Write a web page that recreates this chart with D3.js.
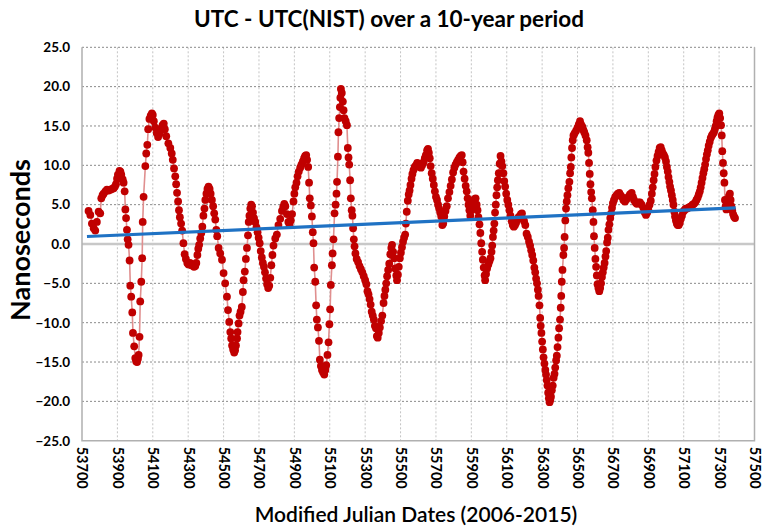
<!DOCTYPE html>
<html>
<head>
<meta charset="utf-8">
<script src="https://cdn.jsdelivr.net/npm/d3@7"></script>
<style>
  body { margin: 0; background: #fff; }
  text { font-family: Lato, "Open Sans", sans-serif; }
</style>
</head>
<body>
<div id="chart"></div>
<script>
// MJD of each plotted point and UTC - UTC(NIST) in ns
const mjd = [
  53737,53747,53756,53766,53775,53784,53794,53803,53809,53816,53822,53832,53841,53850,53860,53870,53879,53886,53892,53898,
  53903,53912,53917,53922,53930,53935,53941,53945,53949,53954,53958,53963,53969,53973,53978,53984,53988,53995,54001,54006,
  54011,54016,54020,54025,54029,54035,54040,54043,54048,54058,54063,54069,54074,54081,54088,54095,54100,54106,54114,54122,
  54130,54138,54147,54155,54162,54168,54176,54188,54199,54207,54213,54220,54227,54232,54237,54243,54248,54253,54260,54266,
  54273,54280,54287,54295,54302,54310,54318,54325,54333,54340,54346,54352,54357,54362,54368,54374,54380,54386,54392,54397,
  54403,54409,54415,54421,54427,54434,54441,54447,54453,54459,54464,54472,54481,54491,54500,54509,54519,54525,54532,54538,
  54543,54548,54554,54560,54565,54570,54576,54579,54585,54590,54596,54603,54609,54613,54620,54626,54632,54638,54642,54646,
  54651,54656,54661,54666,54672,54679,54686,54692,54698,54704,54710,54716,54722,54728,54734,54740,54746,54752,54758,54764,
  54770,54776,54782,54792,54801,54810,54820,54830,54837,54843,54849,54858,54866,54873,54880,54887,54895,54900,54905,54912,
  54918,54925,54933,54940,54948,54955,54961,54967,54972,54978,54983,54987,54993,54999,55004,55008,55012,55018,55023,55027,
  55033,55039,55044,55050,55056,55062,55069,55075,55080,55087,55093,55098,55102,55106,55112,55116,55121,55127,55133,55138,
  55141,55146,55149,55153,55157,55160,55163,55168,55174,55178,55183,55190,55197,55202,55206,55210,55215,55219,55224,55228,
  55232,55236,55240,55245,55252,55260,55268,55276,55284,55292,55300,55307,55313,55319,55325,55331,55337,55343,55349,55355,
  55361,55366,55371,55377,55383,55390,55397,55404,55409,55414,55419,55424,55430,55436,55442,55448,55452,55458,55464,55470,
  55476,55480,55485,55490,55496,55502,55508,55514,55520,55526,55530,55535,55541,55546,55551,55556,55562,55567,55573,55580,
  55587,55594,55601,55608,55615,55622,55630,55637,55643,55650,55655,55660,55665,55670,55676,55682,55688,55694,55700,55706,
  55712,55718,55724,55730,55736,55741,55747,55754,55761,55768,55776,55783,55790,55797,55804,55811,55818,55825,55833,55840,
  55846,55851,55856,55862,55868,55874,55879,55884,55889,55894,55900,55906,55912,55918,55924,55930,55935,55940,55946,55951,
  55956,55961,55965,55970,55975,55978,55983,55989,55996,56002,56008,56014,56018,56022,56026,56030,56034,56038,56042,56046,
  56050,56055,56060,56065,56070,56075,56081,56086,56091,56097,56103,56109,56115,56121,56128,56134,56140,56147,56153,56160,
  56167,56173,56180,56186,56192,56198,56205,56212,56219,56226,56232,56238,56244,56250,56256,56261,56266,56271,56276,56280,
  56285,56289,56292,56296,56300,56304,56308,56313,56318,56322,56326,56330,56334,56338,56342,56346,56350,56355,56360,56365,
  56370,56374,56379,56383,56387,56392,56396,56401,56405,56408,56411,56415,56420,56424,56427,56431,56435,56439,56443,56448,
  56454,56458,56462,56465,56469,56473,56477,56484,56492,56500,56507,56514,56520,56527,56533,56538,56545,56552,56557,56561,
  56565,56569,56573,56577,56581,56586,56590,56593,56597,56601,56605,56609,56613,56618,56623,56628,56633,56638,56643,56648,
  56653,56658,56662,56667,56671,56675,56680,56685,56690,56695,56700,56706,56713,56721,56728,56736,56743,56750,56759,56768,
  56777,56787,56796,56806,56813,56819,56827,56835,56844,56853,56862,56872,56880,56887,56894,56900,56907,56914,56920,56925,
  56930,56935,56940,56946,56952,56958,56964,56970,56976,56982,56988,56994,57000,57005,57010,57014,57019,57023,57028,57033,
  57038,57042,57047,57051,57056,57061,57066,57072,57078,57084,57090,57097,57104,57111,57118,57126,57134,57142,57150,57158,
  57165,57172,57179,57185,57191,57196,57201,57206,57211,57216,57221,57226,57231,57236,57241,57247,57253,57259,57265,57271,
  57276,57281,57286,57291,57296,57301,57306,57311,57315,57318,57322,57326,57330,57333,57337,57341,57346,57351,57356,57361,
  57365,57369,57374,57379,57384,57390
];
const offsetNs = [
  4.2,3.7,2.6,2.0,1.7,2.8,4.1,3.9,5.8,6.2,6.4,6.7,6.9,6.8,6.9,7.0,7.1,7.3,7.6,8.3,
  8.8,9.3,9.2,8.8,8.2,7.8,6.7,4.4,3.3,1.8,0.6,-0.1,-2.1,-5.3,-6.7,-8.7,-11.3,-13.0,-14.5,-14.9,
  -15.0,-14.6,-14.1,-11.8,-7.3,-4.8,-1.8,2.8,6.0,9.9,11.5,12.6,14.6,15.9,16.3,16.6,16.4,15.6,14.8,14.1,
  13.6,14.0,14.6,15.1,15.3,14.6,13.7,12.8,12.2,11.5,10.7,9.6,8.6,7.6,6.5,5.4,4.3,3.4,2.6,1.7,
  0.1,-1.3,-1.9,-2.4,-2.6,-2.4,-2.7,-2.6,-2.9,-2.8,-2.4,-1.4,-0.6,-0.1,0.7,1.4,2.2,3.6,4.5,5.6,
  6.4,7.0,7.3,7.0,6.4,5.6,4.8,3.9,3.1,1.8,1.0,-0.5,-1.2,-2.0,-3.7,-5.0,-6.7,-8.4,-9.9,-11.2,
  -12.0,-12.9,-13.4,-13.8,-13.5,-12.9,-12.0,-11.2,-10.1,-9.1,-8.6,-8.0,-6.1,-4.6,-3.5,-1.9,-0.5,1.1,2.8,3.6,
  4.5,5.0,4.8,4.0,3.3,2.8,2.1,1.5,0.8,0.1,-0.9,-1.7,-2.4,-2.9,-3.6,-4.4,-5.1,-5.6,-5.3,-4.3,
  -2.7,-1.4,-0.2,0.7,1.2,2.4,3.2,4.2,4.7,5.1,4.8,3.8,2.8,2.4,3.0,3.8,5.4,6.4,7.2,7.8,
  8.6,9.2,9.7,10.1,10.5,10.9,11.2,11.3,10.7,9.8,7.8,5.8,4.9,3.5,1.5,0.1,-3.0,-4.8,-7.8,-9.6,
  -10.6,-12.3,-14.7,-15.5,-16.0,-16.3,-16.6,-16.0,-15.4,-14.1,-12.5,-10.2,-8.3,-5.2,-2.7,-1.2,0.6,3.9,5.0,6.4,
  7.9,11.1,14.2,16.0,17.4,18.6,19.7,19.2,18.1,17.0,16.0,15.6,15.1,12.2,11.0,10.1,8.1,5.8,4.3,3.6,
  2.0,0.6,-0.3,-1.2,-1.9,-2.3,-2.8,-3.2,-3.6,-4.1,-4.6,-5.1,-6.0,-6.4,-7.0,-7.7,-8.6,-9.1,-9.6,-10.4,
  -10.7,-11.7,-11.9,-11.3,-10.6,-9.8,-9.1,-7.5,-6.6,-5.8,-5.0,-4.1,-3.3,-2.5,-1.3,-0.5,-0.1,-1.0,-1.8,-3.1,
  -4.0,-4.6,-3.9,-2.9,-1.8,-1.1,-0.4,0.3,0.8,1.2,2.6,4.1,5.5,6.3,6.8,7.5,8.3,8.9,9.4,9.8,
  10.0,10.3,10.2,9.8,9.7,10.0,10.4,10.9,11.3,11.9,12.1,11.6,10.9,9.9,9.0,8.3,7.5,6.7,6.0,5.6,
  5.0,4.5,4.0,3.5,2.4,2.6,3.5,4.2,4.8,5.8,6.6,7.4,8.2,9.1,9.7,10.1,10.4,10.7,11.0,11.2,
  11.3,10.4,9.2,8.3,7.4,6.7,5.8,5.0,4.3,3.6,4.3,5.0,5.4,5.7,5.8,5.0,4.3,3.4,2.5,1.4,
  0.1,-1.0,-2.0,-3.0,-4.0,-4.6,-3.8,-3.1,-2.6,-2.2,-1.8,-1.0,-0.2,0.9,1.7,2.6,4.0,5.0,6.2,7.2,
  8.1,9.0,10.2,11.2,10.5,9.9,9.0,8.0,7.3,6.4,5.6,5.0,4.3,3.6,2.9,2.4,2.2,2.4,2.7,3.1,
  3.4,3.5,3.8,3.9,3.2,2.9,2.4,1.3,0.9,0.3,-0.2,-0.8,-1.4,-2.1,-3.0,-3.6,-4.4,-5.0,-5.8,-6.6,
  -7.8,-9.4,-10.4,-11.3,-12.4,-13.4,-14.4,-15.2,-16.0,-16.6,-17.3,-18.0,-18.9,-19.6,-20.1,-19.8,-19.4,-18.6,-18.0,-17.0,
  -16.5,-15.7,-14.8,-14.2,-13.1,-11.9,-10.7,-9.6,-8.1,-6.6,-4.8,-3.3,-1.4,-0.5,0.9,3.0,4.5,5.4,6.2,7.1,
  7.9,9.0,9.8,11.0,12.2,13.2,13.8,14.1,14.4,14.8,15.2,15.6,15.2,14.9,14.5,14.2,13.8,13.2,12.3,11.6,
  10.3,8.9,7.6,6.6,5.8,4.3,2.8,1.0,-0.5,-1.9,-2.9,-4.0,-5.1,-5.6,-6.0,-5.6,-5.0,-4.2,-3.6,-3.0,
  -2.4,-1.6,-0.9,0.2,0.8,1.8,2.5,3.3,3.9,4.6,5.2,5.6,6.0,6.2,6.4,6.5,6.2,6.0,5.6,5.4,
  5.7,6.0,6.3,6.5,6.0,5.6,5.3,5.1,5.3,5.3,5.0,4.6,4.0,3.7,4.0,4.4,5.0,5.5,6.4,7.2,
  8.1,8.9,9.8,10.6,11.2,11.7,12.2,12.3,11.9,11.5,11.3,11.0,10.5,9.8,9.2,8.5,7.9,7.3,6.8,6.2,
  5.6,5.0,4.1,3.5,3.0,2.6,2.4,2.4,2.7,3.2,3.6,4.1,4.3,4.5,4.5,4.6,4.7,4.8,5.0,5.1,
  5.3,5.6,5.9,6.3,6.7,7.2,7.8,8.4,9.0,9.5,10.1,10.8,11.4,11.9,12.5,13.0,13.5,13.8,14.0,14.2,
  14.6,15.0,15.6,16.1,16.4,16.6,16.0,15.1,13.8,11.8,10.3,9.0,7.8,5.6,4.8,4.4,5.0,5.6,6.1,6.4,
  5.6,4.8,4.3,3.8,3.5,3.3
];
// linear trend line end points
const trendMjd = [53728, 57394];
const trendNs = [0.95, 4.6];

const xTickValues = [53700,53900,54100,54300,54500,54700,54900,55100,55300,55500,
                     55700,55900,56100,56300,56500,56700,56900,57100,57300,57500];
const yTickValues = [-25,-20,-15,-10,-5,0,5,10,15,20,25];

const width = 768, height = 532;
const plot = { left: 82, right: 754.5, top: 47.3, bottom: 440.7 };

const svg = d3.select("#chart").append("svg")
  .attr("width", width).attr("height", height);

const x = d3.scaleLinear().domain([53700, 57500]).range([plot.left, plot.right]);
const y = d3.scaleLinear().domain([-25, 25]).range([plot.bottom, plot.top]);

// grid
svg.append("g").selectAll("line").data(xTickValues.slice(1)).join("line")
  .attr("x1", d => x(d)).attr("x2", d => x(d))
  .attr("y1", plot.top).attr("y2", plot.bottom)
  .attr("stroke", "#c4c4c4").attr("stroke-width", 1).attr("stroke-dasharray", "2,2");

svg.append("g").selectAll("line").data(yTickValues.filter(d => d !== 0 && d !== -25)).join("line")
  .attr("x1", plot.left).attr("x2", plot.right)
  .attr("y1", d => y(d)).attr("y2", d => y(d))
  .attr("stroke", "#8a8a8a").attr("stroke-width", 1).attr("stroke-dasharray", "2,2");

// zero line
svg.append("line")
  .attr("x1", plot.left).attr("x2", plot.right)
  .attr("y1", y(0)).attr("y2", y(0))
  .attr("stroke", "#c8c8c8").attr("stroke-width", 2.5);

// frame: left, bottom, right
svg.append("path")
  .attr("d", `M${plot.left},${plot.top}V${plot.bottom}H${plot.right}V${plot.top}`)
  .attr("fill", "none").attr("stroke", "#b0b0b0").attr("stroke-width", 1.5);

// axes
const xAxis = d3.axisBottom(x).tickValues(xTickValues).tickSize(0).tickFormat(d3.format("d"));
const gx = svg.append("g").attr("transform", `translate(0,${plot.bottom})`).call(xAxis);
gx.select(".domain").remove();
gx.selectAll("text")
  .attr("transform", "rotate(90)")
  .attr("x", 6).attr("y", 0).attr("dy", "0.35em")
  .style("text-anchor", "start")
  .style("font-size", "14.5px").style("font-weight", "bold").attr("fill", "#000");

const yAxis = d3.axisLeft(y).tickValues(yTickValues).tickSize(0).tickFormat(d3.format(".1f"));
const gy = svg.append("g").attr("transform", `translate(${plot.left},0)`).call(yAxis);
gy.select(".domain").remove();
gy.selectAll("text").attr("x", -12)
  .style("font-size", "13.5px").style("font-weight", "bold").attr("fill", "#000");

// data
const pts = mjd.map((d, i) => [d, offsetNs[i]]);

svg.append("path").datum(pts)
  .attr("fill", "none").attr("stroke", "#e08f8f").attr("stroke-width", 1.6)
  .attr("d", d3.line().x(d => x(d[0])).y(d => y(d[1])));

svg.append("g").selectAll("circle").data(pts).join("circle")
  .attr("cx", d => x(d[0])).attr("cy", d => y(d[1])).attr("r", 3.9)
  .attr("fill", "#c00000");

// trend
svg.append("line")
  .attr("x1", x(trendMjd[0])).attr("y1", y(trendNs[0]))
  .attr("x2", x(trendMjd[1])).attr("y2", y(trendNs[1]))
  .attr("stroke", "#1f72c4").attr("stroke-width", 3.2);

// titles
svg.append("text").attr("x", 389).attr("y", 27).attr("text-anchor", "middle")
  .style("font-size", "22.5px").style("font-weight", "bold")
  .text("UTC - UTC(NIST) over a 10-year period");

svg.append("text").attr("transform", `translate(30,240) rotate(-90)`).attr("text-anchor", "middle")
  .style("font-size", "27px").style("font-weight", "bold")
  .text("Nanoseconds");

svg.append("text").attr("x", 416).attr("y", 522).attr("text-anchor", "middle")
  .style("font-size", "21px").style("font-weight", "600")
  .text("Modified Julian Dates (2006-2015)");
</script>
</body>
</html>
